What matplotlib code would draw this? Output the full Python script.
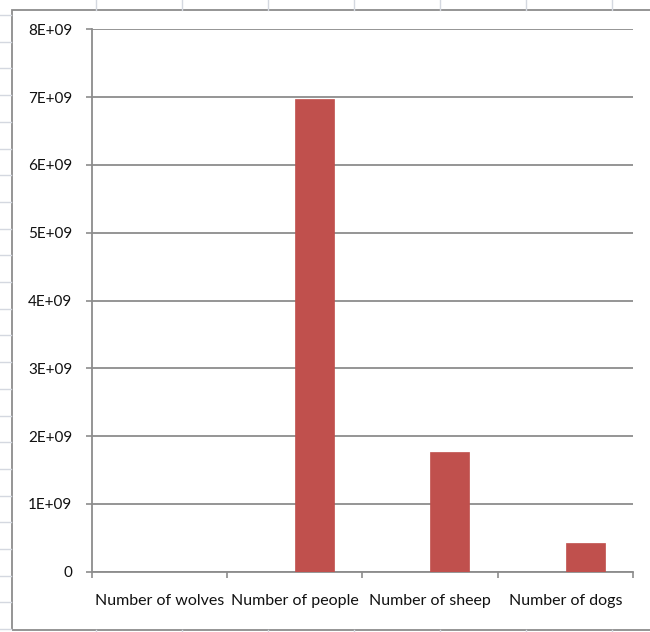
import matplotlib
matplotlib.use("Agg")
import matplotlib.pyplot as plt
from matplotlib.ticker import FuncFormatter, FixedLocator
from matplotlib.lines import Line2D
from matplotlib.patches import Rectangle
import numpy as np

categories = ["Number of wolves", "Number of people", "Number of sheep", "Number of dogs"]
values = [200000, 6.97e9, 1.76e9, 4.2e8]
y_ticks = [0, 1e9, 2e9, 3e9, 4e9, 5e9, 6e9, 7e9, 8e9]

W, H = 650, 632
fig = plt.figure(figsize=(W / 100, H / 100), dpi=100)
plt.rcParams['font.family'] = ['Lato', 'DejaVu Sans']

grid_col = "#d4d8e0"
# spreadsheet cell lines behind the chart
for x in [96, 182, 268, 354, 440, 526, 612]:
    fig.add_artist(Line2D([x / W, x / W], [1, 1 - 10 / H], color=grid_col, lw=1))
    fig.add_artist(Line2D([x / W, x / W], [0, 2 / H], color=grid_col, lw=1))
for y in np.arange(15, 632, 26.7):
    fig.add_artist(Line2D([0, 11 / W], [1 - y / H, 1 - y / H], color=grid_col, lw=1))

# chart border
fig.add_artist(Rectangle((12 / W, 2 / H), 1.0, (630 - 10) / H, transform=fig.transFigure,
                         fill=False, edgecolor="#8c8c8c", lw=1.3))

left, right, top, bottom = 91.7, 633.3, 29.3, 571.7
ax = fig.add_axes([left / W, 1 - bottom / H, (right - left) / W, (bottom - top) / H])

x = np.arange(len(categories))
bw = 0.288
ax.bar(x, values, width=bw, align='edge', color="#C0504D", edgecolor="#C0504D", lw=0.5, zorder=3)

ax.set_xlim(-0.5, len(categories) - 0.5)
ax.set_ylim(0, 8e9)
ax.set_yticks(y_ticks)
ax.yaxis.set_major_formatter(FuncFormatter(lambda v, p: "0" if v == 0 else f"{v/1e9:.0f}E+09"))
ax.set_xticks(x)
ax.set_xticklabels(categories)
ax.xaxis.set_minor_locator(FixedLocator(np.arange(-0.5, len(categories), 1.0)))

gc = "#8c8c8c"
ax.grid(axis='y', color=gc, lw=1.3, zorder=0)
for s in ["top", "right"]:
    ax.spines[s].set_visible(False)
for s in ["left", "bottom"]:
    ax.spines[s].set_color(gc)
    ax.spines[s].set_linewidth(1.3)

ax.tick_params(axis='y', length=4, width=1.2, color=gc, pad=10, labelsize=11, labelcolor="#111111")
ax.tick_params(axis='x', which='major', length=0, pad=16, labelsize=11.5, labelcolor="#111111")
ax.tick_params(axis='x', which='minor', length=4, width=1.2, color=gc)

fig.savefig("out.png", dpi=100)
